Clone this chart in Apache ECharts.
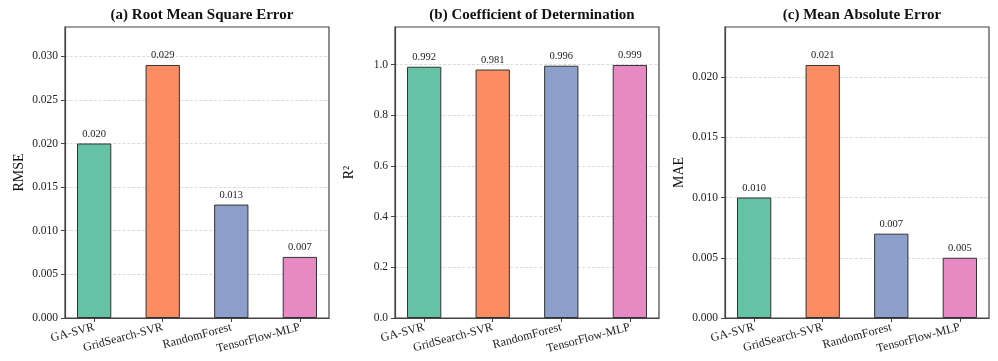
<!DOCTYPE html>
<html>
<head>
<meta charset="utf-8">
<script src="https://cdn.jsdelivr.net/npm/echarts@6/dist/echarts.min.js"></script>
<style>
  html, body { margin: 0; padding: 0; background: #fff; }
  #chart { width: 998px; height: 361px; }
</style>
</head>
<body>
<div id="chart"></div>
<script>
// Model names shown on every panel's x axis
const models = ['GA-SVR', 'GridSearch-SVR', 'RandomForest', 'TensorFlow-MLP'];
// Metric values per model
const rmseValues = [0.020, 0.029, 0.013, 0.007];
const r2Values = [0.992, 0.981, 0.996, 0.999];
const maeValues = [0.010, 0.021, 0.007, 0.005];
// Panel titles, y axis names and tick steps
const panelTitles = ['(a) Root Mean Square Error', '(b) Coefficient of Determination', '(c) Mean Absolute Error'];
const axisNames = ['RMSE', 'R\u00B2', 'MAE'];
const tickSteps = [0.005, 0.2, 0.005];
const tickDecimals = [3, 1, 3];

const palette = ['#66c2a5', '#fc8d62', '#8da0cb', '#e78ac3'];
const serif = "'Liberation Serif', 'Times New Roman', serif";
const panels = [rmseValues, r2Values, maeValues];

const gridLeft = [65, 395, 725];
const gridTop = 27, gridW = 264, gridH = 291;
const xMin = -0.425, xMax = 3.425;
const barPx = gridW / (xMax - xMin) * 0.5;

const chart = echarts.init(document.getElementById('chart'), null, { renderer: 'canvas' });

const option = {
  backgroundColor: '#fff',
  animation: false,
  title: panels.map((_, k) => ({
    text: panelTitles[k],
    left: gridLeft[k] + gridW / 2,
    top: 3,
    textAlign: 'center',
    textStyle: { fontFamily: serif, fontWeight: 'bold', fontSize: 15, color: '#111' }
  })),
  grid: panels.map((_, k) => ({
    left: gridLeft[k], top: gridTop, width: gridW, height: gridH,
    show: true, borderColor: '#444', borderWidth: 1.2, backgroundColor: 'transparent'
  })),
  xAxis: panels.map((_, k) => ({
    type: 'value', gridIndex: k, min: xMin, max: xMax,
    axisLine: { show: true, onZero: false, lineStyle: { color: '#444', width: 1.2 } },
    axisTick: { show: true, length: 4, customValues: [0, 1, 2, 3], lineStyle: { color: '#444' } },
    splitLine: { show: false },
    axisLabel: {
      customValues: [0, 1, 2, 3],
      formatter: v => models[Math.round(v)],
      rotate: 15, margin: 9,
      fontFamily: serif, fontSize: 12, color: '#222'
    }
  })),
  yAxis: panels.map((vals, k) => ({
    type: 'value', gridIndex: k, min: 0,
    max: Math.max(...vals) * 1.15,
    interval: tickSteps[k],
    name: axisNames[k], nameLocation: 'middle', nameGap: 39, nameRotate: 90,
    nameTextStyle: { fontFamily: serif, fontSize: 14, color: '#111' },
    axisLine: { show: true, onZero: false, lineStyle: { color: '#444', width: 1.2 } },
    axisTick: { show: true, length: 4, lineStyle: { color: '#444' } },
    axisLabel: {
      showMaxLabel: false, margin: 7,
      formatter: v => v.toFixed(tickDecimals[k]),
      fontFamily: serif, fontSize: 11.5, color: '#222'
    },
    splitLine: { show: true, showMaxLine: false, lineStyle: { color: '#d4d4d4', type: 'dashed', width: 0.8 } }
  })),
  series: panels.map((vals, k) => ({
    type: 'bar', xAxisIndex: k, yAxisIndex: k,
    barWidth: barPx,
    data: vals.map((v, i) => ({
      value: [i, v],
      itemStyle: { color: palette[i], borderColor: '#333', borderWidth: 1 }
    })),
    label: {
      show: true, position: 'top', distance: 4,
      formatter: p => p.value[1].toFixed(3),
      fontFamily: serif, fontSize: 10.5, color: '#222'
    }
  }))
};

chart.setOption(option);
</script>
</body>
</html>
